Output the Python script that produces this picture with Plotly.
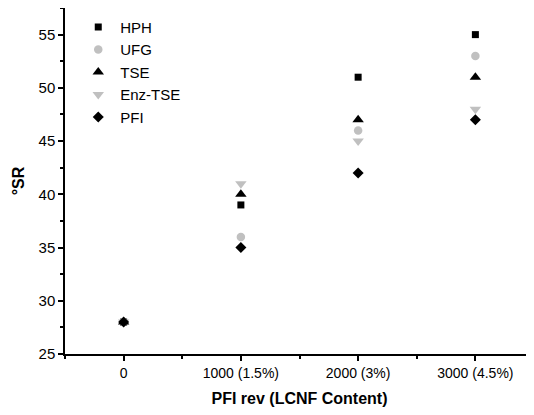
import plotly.graph_objects as go

categories = ["0", "1000 (1.5%)", "2000 (3%)", "3000 (4.5%)"]
x_pos = [0, 1, 2, 3]
series_names = ["HPH", "UFG", "TSE", "Enz-TSE", "PFI"]
hph = [28, 39, 51, 55]
ufg = [28, 36, 46, 53]
tse = [28, 40, 47, 51]
enz_tse = [28, 41, 45, 48]
pfi = [28, 35, 42, 47]

values = [hph, ufg, tse, enz_tse, pfi]
symbols = ["square", "circle", "triangle-up", "triangle-down", "diamond"]
colors = ["#000000", "#c0c0c0", "#000000", "#c0c0c0", "#000000"]
sizes = [7, 8.5, 10, 10, 8.5]

fig = go.Figure()
for name, vals, sym, col, sz in zip(series_names, values, symbols, colors, sizes):
    fig.add_trace(go.Scatter(
        x=x_pos, y=vals, mode="markers", name=name,
        marker=dict(symbol=sym, color=col, size=sz, line=dict(width=0)),
    ))

font = "Arial, Liberation Sans, sans-serif"
# the page body has an 8px margin, so the figure is 8px smaller than the window
fig.update_layout(
    width=526, height=407,
    margin=dict(l=57, r=0, t=0, b=61, autoexpand=False),
    plot_bgcolor="white", paper_bgcolor="white",
    font=dict(family=font, size=14, color="#000"),
    showlegend=True,
    legend=dict(x=0.024, y=0.992, xanchor="left", yanchor="top",
                bgcolor="rgba(0,0,0,0)", font=dict(size=15), itemwidth=34),
    xaxis=dict(
        range=[-0.5, 3.5], tickvals=x_pos, ticktext=categories, automargin=False,
        showgrid=False, zeroline=False, showline=True, linecolor="black", linewidth=1.5,
        mirror="ticks", ticks="outside", ticklen=5, tickwidth=1.5, tickcolor="black",
        minor=dict(tick0=0.5, dtick=1, ticks="outside", ticklen=3, tickwidth=1.5, tickcolor="black"),
        title=dict(text="<b>PFI rev (LCNF Content)</b>", font=dict(size=16), standoff=13),
        tickfont=dict(size=14),
    ),
    yaxis=dict(
        range=[25, 57.5], tickvals=[25, 30, 35, 40, 45, 50, 55], automargin=False,
        showgrid=False, zeroline=False, showline=True, linecolor="black", linewidth=1.5,
        ticks="outside", ticklen=5, tickwidth=1.5, tickcolor="black",
        minor=dict(tick0=27.5, dtick=5, ticks="outside", ticklen=3, tickwidth=1.5, tickcolor="black"),
        title=dict(text="<b>°SR</b>", font=dict(size=16), standoff=10),
        tickfont=dict(size=15),
    ),
)

fig.write_html("out.html")
